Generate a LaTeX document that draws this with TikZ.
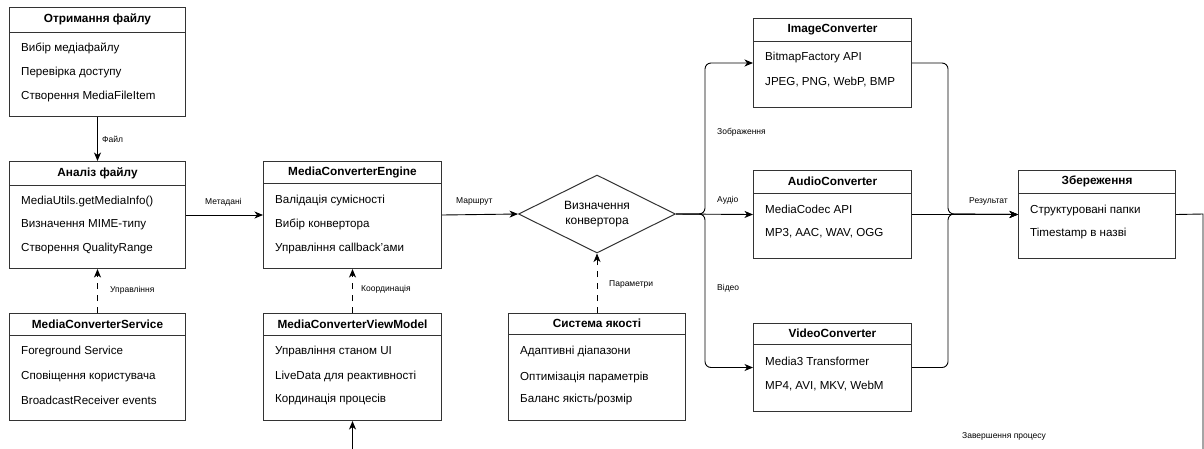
\documentclass[tikz,border=0pt]{standalone}
\usepackage{fontspec}
\setmainfont{Liberation Sans}
\usetikzlibrary{arrows.meta,shapes.geometric}

% class-style box: frame, header rule and bold title
\newcommand{\classbox}[7]{%
  \node[boxframe, minimum width=#4, minimum height=#5, anchor=north west] (#1) at (#2,#3) {};
  \draw[boxline] ([yshift=-#6]#1.north west) -- ([yshift=-#6]#1.north east);
  \node[titletext] (#1-title) at ([yshift=-#6/2]#1.north) {#7};
}

\tikzset{
  boxframe/.style={draw=black!80, line width=1pt, fill=white, inner sep=0pt},
  boxline/.style={draw=black!80, line width=1pt},
  titletext/.style={font=\fontsize{11.8}{14}\selectfont\bfseries, inner sep=0pt},
  itemtext/.style={font=\fontsize{11.6}{14}\selectfont, anchor=west, inner sep=0pt},
  lbl/.style={font=\fontsize{8.5}{10}\selectfont, anchor=west, inner sep=0pt},
  flow/.style={draw=black, line width=0.9pt, -{Stealth[length=8.5pt,width=7pt,inset=2.5pt]}, rounded corners=6pt},
  dep/.style={flow, dash pattern=on 6pt off 6pt},
}

\begin{document}
\begin{tikzpicture}[x=1pt, y=-1pt]
  \useasboundingbox (0,0) rectangle (1204,448);
  \clip (0,0) rectangle (1204,448);
  \fill[white] (0,0) rectangle (1204,448);

  % file intake
  \classbox{get}{9}{7}{176}{109}{25}{Отримання файлу}
  \node[itemtext] (get-1) at (21,48) {Вибір медіафайлу};
  \node[itemtext] (get-2) at (21,72) {Перевірка доступу};
  \node[itemtext] (get-3) at (21,96) {Створення MediaFileItem};

  % analysis
  \classbox{ana}{9}{161}{176}{107}{24}{Аналіз файлу}
  \node[itemtext] (ana-1) at (21,201) {MediaUtils.getMediaInfo()};
  \node[itemtext] (ana-2) at (21,225) {Визначення MIME-типу};
  \node[itemtext] (ana-3) at (21,248) {Створення QualityRange};

  % service
  \classbox{svc}{9}{313}{176}{107}{22}{MediaConverterService}
  \node[itemtext] (svc-1) at (21,351) {Foreground Service};
  \node[itemtext] (svc-2) at (21,376) {Сповіщення користувача};
  \node[itemtext] (svc-3) at (21,400) {BroadcastReceiver events};

  % engine
  \classbox{eng}{263}{161}{178}{107}{22}{MediaConverterEngine}
  \node[itemtext] (eng-1) at (275,200) {Валідація сумісності};
  \node[itemtext] (eng-2) at (275,224) {Вибір конвертора};
  \node[itemtext] (eng-3) at (275,248) {Управління callback'ами};

  % view model
  \classbox{vm}{263}{313}{178}{107}{22}{MediaConverterViewModel}
  \node[itemtext] (vm-1) at (275,351) {Управління станом UI};
  \node[itemtext] (vm-2) at (275,376) {LiveData для реактивності};
  \node[itemtext] (vm-3) at (275,399) {Кординація процесів};

  % quality system
  \classbox{qual}{508}{313}{177}{107}{21}{Система якості}
  \node[itemtext] (qual-1) at (520,351) {Адаптивні діапазони};
  \node[itemtext] (qual-2) at (520,377) {Оптимізація параметрів};
  \node[itemtext] (qual-3) at (520,399) {Баланс якість/розмір};

  % decision
  \node[draw=black!80, line width=1pt, diamond, minimum width=157, minimum height=78, inner sep=0pt, fill=white] (dec) at (597,214) {};
  \node[font=\fontsize{12}{15}\selectfont, align=center, inner sep=0pt] (dec-text) at (597,214.5) {Визначення\\конвертора};

  % converters
  \classbox{img}{753}{18}{158}{89}{23}{ImageConverter}
  \node[itemtext] (img-1) at (765,57) {BitmapFactory API};
  \node[itemtext] (img-2) at (765,82) {JPEG, PNG, WebP, BMP};

  \classbox{aud}{753}{170}{158}{88}{23}{AudioConverter}
  \node[itemtext] (aud-1) at (765,209) {MediaCodec API};
  \node[itemtext] (aud-2) at (765,233) {MP3, AAC, WAV, OGG};

  \classbox{vid}{753}{323}{158}{88}{21}{VideoConverter}
  \node[itemtext] (vid-1) at (765,361) {Media3 Transformer};
  \node[itemtext] (vid-2) at (765,386) {MP4, AVI, MKV, WebM};

  % storage
  \classbox{save}{1018}{170}{157}{88}{23}{Збереження}
  \node[itemtext] (save-1) at (1030,210) {Структуровані папки};
  \node[itemtext] (save-2) at (1030,233) {Timestamp в назві};

  % routing points
  \coordinate (split) at (705,214);
  \coordinate (merge) at (948,214);
  \coordinate (loopR) at (1203,214);
  \coordinate (loopB) at (1203,470);

  % connectors
  \draw[flow] (get.south) -- (ana.north);
  \draw[dep] (svc.north) -- (ana.south);
  \draw[flow] (ana.east) -- (eng.west);
  \draw[dep] (vm.north) -- (eng.south);
  \draw[flow] (eng.east) -- (dec.west);
  \draw[dep] (qual.north) -- (dec.south);
  \draw[flow] (dec.east) -- (split) |- (img.west);
  \draw[flow] (dec.east) -- (aud.west);
  \draw[flow] (dec.east) -- (split) |- (vid.west);
  \draw[flow] (img.east) -| (merge) -- (save.west);
  \draw[flow] (aud.east) -- (save.west);
  \draw[flow] (vid.east) -| (merge) -- (save.west);
  \draw[flow, sharp corners] (save.east) -- (loopR) -- (loopB) -| (vm.south);

  % connector labels
  \node[lbl] (l-file) at (102,139) {Файл};
  \node[lbl] (l-ctrl) at (110,290) {Управління};
  \node[lbl] (l-meta) at (205,202) {Метадані};
  \node[lbl] (l-coord) at (361,289) {Координація};
  \node[lbl] (l-route) at (456,201) {Маршрут};
  \node[lbl] (l-par) at (609,284) {Параметри};
  \node[lbl] (l-img) at (717,132) {Зображення};
  \node[lbl] (l-aud) at (717,200) {Аудіо};
  \node[lbl] (l-vid) at (717,288) {Відео};
  \node[lbl] (l-res) at (969,201) {Результат};
  \node[lbl] (l-end) at (962,436) {Завершення процесу};
\end{tikzpicture}
\end{document}
